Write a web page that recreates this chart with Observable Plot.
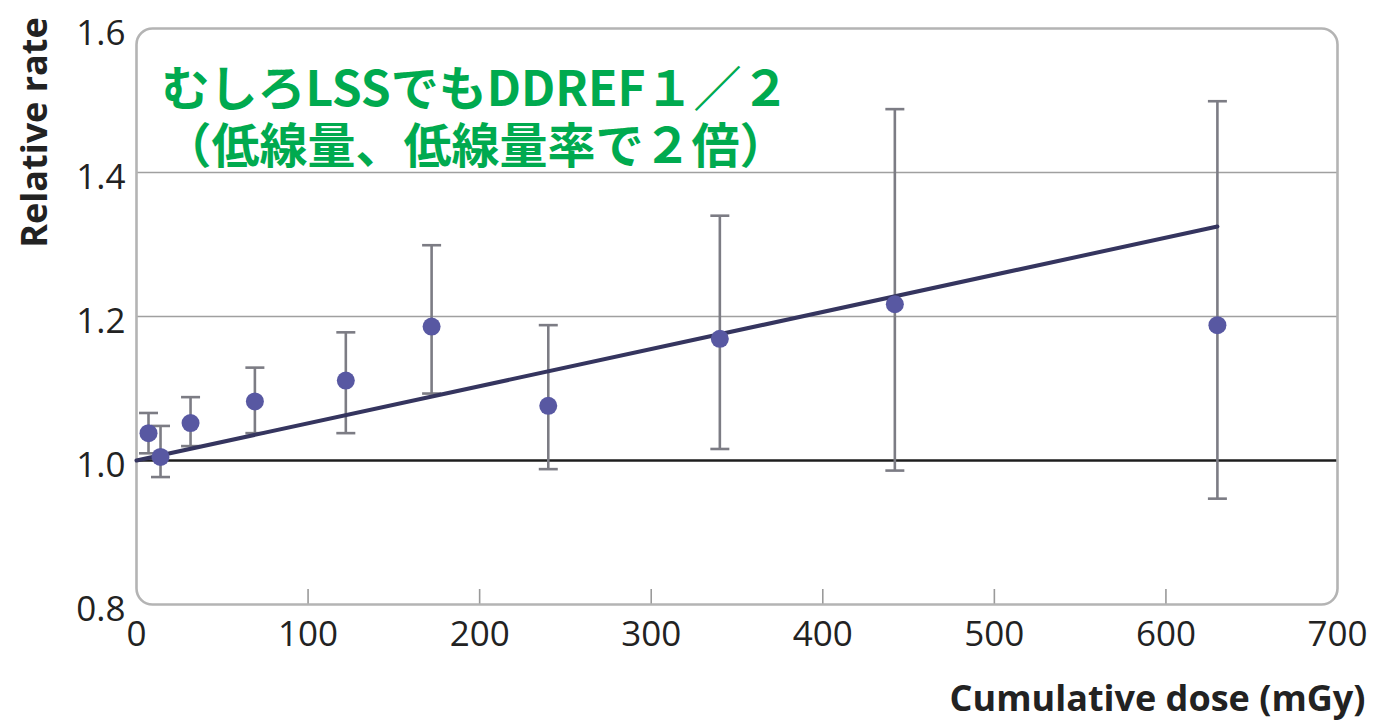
<!DOCTYPE html>
<html>
<head>
<meta charset="utf-8">
<script src="https://cdn.jsdelivr.net/npm/d3@7"></script>
<script src="https://cdn.jsdelivr.net/npm/@observablehq/plot@0.6"></script>
<style>
  html, body { margin: 0; padding: 0; background: #fff; }
</style>
</head>
<body>
<div id="chart"></div>
<script>
// Data
const doses = [7, 14, 31.5, 69, 122, 172, 240, 340, 442, 630];
const rates = [1.038, 1.005, 1.052, 1.082, 1.111, 1.186, 1.076, 1.169, 1.217, 1.188];
const lower = [1.01, 0.977, 1.02, 1.038, 1.038, 1.093, 0.988, 1.016, 0.986, 0.947];
const upper = [1.066, 1.048, 1.088, 1.129, 1.178, 1.299, 1.188, 1.340, 1.488, 1.499];

const fitDose = [0, 630];
const fitRate = [1.0, 1.325];

const xTicks = [0, 100, 200, 300, 400, 500, 600, 700];
const xInnerTicks = [100, 200, 300, 400, 500, 600];
const yTicks = [0.8, 1.0, 1.2, 1.4, 1.6];
const gridLines = [1.2, 1.4];
const baseLine = [1.0];

const xTitle = "Cumulative dose (mGy)";
const yTitle = "Relative rate";
const noteLines = ["むしろLSSでもDDREF１／２", "（低線量、低線量率で２倍）"];

const points = doses.map((d, i) => ({dose: d, rate: rates[i], lo: lower[i], hi: upper[i]}));
const fit = fitDose.map((d, i) => ({dose: d, rate: fitRate[i]}));

const capSymbol = {
  draw(ctx, size) {
    const w = Math.sqrt(size / Math.PI);
    ctx.moveTo(-w, 0);
    ctx.lineTo(w, 0);
  }
};

const chart = Plot.plot({
  width: 1375,
  height: 721,
  marginLeft: 136,
  marginRight: 38,
  marginTop: 28,
  marginBottom: 117,
  style: {fontFamily: "'Open Sans', 'Noto Sans', sans-serif", fontSize: "35px", color: "#222", background: "#fff", overflow: "visible"},
  x: {domain: [0, 700], label: null},
  y: {domain: [0.8, 1.6], label: null},
  marks: [
    Plot.ruleY(gridLines, {stroke: "#a0a0a0", strokeWidth: 1.6}),
    Plot.ruleY(baseLine, {stroke: "#1e1e1e", strokeWidth: 2.6}),
    Plot.tickX(xInnerTicks, {x: d => d, insetTop: 561, stroke: "#9a9a9a", strokeWidth: 1.6}),
    Plot.frame({stroke: "#b4b4b4", strokeWidth: 2.6, rx: 16}),
    Plot.axisX(xTicks, {label: null, tickSize: 0, tickPadding: 17, fill: "#222", fontSize: 35}),
    Plot.axisY(yTicks, {label: null, tickSize: 0, tickPadding: 11, dy: 5, tickFormat: d => d.toFixed(1), fill: "#222", fontSize: 35}),
    Plot.ruleX(points, {x: "dose", y1: "lo", y2: "hi", stroke: "#7c7c84", strokeWidth: 2.6}),
    Plot.dot(points, {x: "dose", y: "hi", symbol: capSymbol, r: 9.5, fill: "none", stroke: "#7c7c84", strokeWidth: 2.6}),
    Plot.dot(points, {x: "dose", y: "lo", symbol: capSymbol, r: 9.5, fill: "none", stroke: "#7c7c84", strokeWidth: 2.6}),
    Plot.line(fit, {x: "dose", y: "rate", stroke: "#35355f", strokeWidth: 4}),
    Plot.dot(points, {x: "dose", y: "rate", r: 9, fill: "#5858a2", stroke: "none"}),
    Plot.text([noteLines.join("\n")], {
      frameAnchor: "top-left", dx: 339, dy: 88, textAnchor: "middle", lineAnchor: "middle",
      lineHeight: 1.19, fontSize: 48, fontWeight: "bold", fill: "#00aa4f",
      fontFamily: "'Noto Sans CJK JP', sans-serif"
    }),
    Plot.text([yTitle], {
      frameAnchor: "top-left", dx: -101, dy: 104, rotate: -90, textAnchor: "middle", lineAnchor: "middle",
      fontSize: 36, fontWeight: "bold", fill: "#222"
    }),
    Plot.text([xTitle], {
      frameAnchor: "bottom-right", dx: 28, dy: 95, textAnchor: "end", lineAnchor: "middle",
      fontSize: 36, fontWeight: "bold", fill: "#222"
    })
  ]
});

document.getElementById("chart").appendChild(chart);
</script>
</body>
</html>
